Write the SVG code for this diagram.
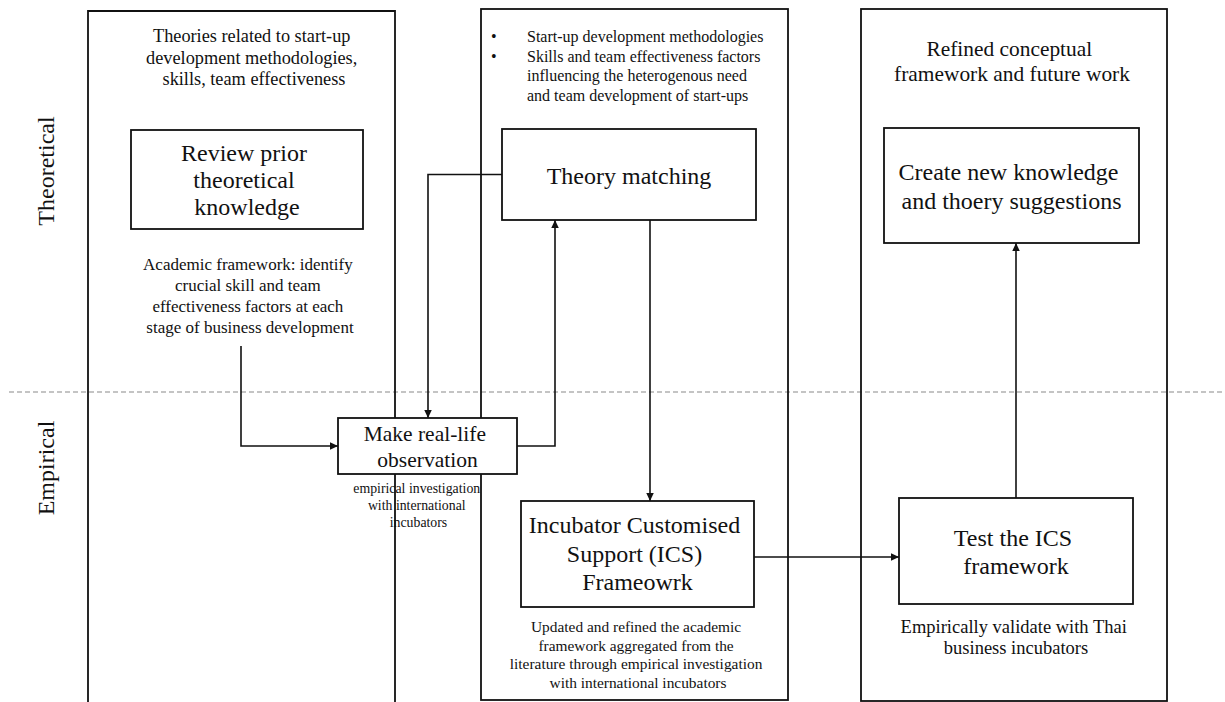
<svg xmlns="http://www.w3.org/2000/svg" width="1225" height="702" viewBox="0 0 1225 702">
  <style>
    text { font-family: "Liberation Serif", "Times New Roman", serif; fill: #111; }
    .col { fill: none; stroke: #111; stroke-width: 1.8; }
    .box { fill: #fff; stroke: #111; stroke-width: 1.8; }
    .big { font-size: 24px; text-anchor: middle; }
    .note { text-anchor: middle; }
    .side { font-size: 24px; text-anchor: middle; }
    .link { fill: none; stroke: #111; stroke-width: 1.6; marker-end: url(#arrow); }
  </style>
  <defs>
    <marker id="arrow" viewBox="0 0 10 10" refX="10" refY="5" markerWidth="8" markerHeight="7.5" markerUnits="userSpaceOnUse" orient="auto" preserveAspectRatio="none">
      <path d="M0,0 L10,5 L0,10 z" fill="#111"/>
    </marker>
  </defs>

  <rect width="1225" height="702" fill="#fff"/>

  <!-- side labels -->
  <text class="side" transform="translate(54,171) rotate(-90)">Theoretical</text>
  <text class="side" transform="translate(54,468) rotate(-90)">Empirical</text>

  <!-- divider between theoretical and empirical -->
  <line x1="9" y1="392" x2="1225" y2="392" stroke="#8a8a8a" stroke-width="1.2" stroke-dasharray="5,3"/>

  <!-- stage columns -->
  <g id="stage-1">
    <path class="col" d="M88,704 V11 H395 V704"/>
    <text class="note" font-size="18.3px">
      <tspan x="254" y="42">Theories related to start-up</tspan>
      <tspan x="254" y="63.5">development methodologies,</tspan>
      <tspan x="254" y="85">skills, team effectiveness</tspan>
    </text>
    <text class="note" font-size="17px">
      <tspan x="250" y="270">Academic framework: identify</tspan>
      <tspan x="250" y="291">crucial skill and team</tspan>
      <tspan x="250" y="312">effectiveness factors at each</tspan>
      <tspan x="250" y="333">stage of business development</tspan>
    </text>
  </g>
  <g id="stage-2">
    <rect class="col" x="481" y="9" width="307" height="691"/>
    <text font-size="16px">
      <tspan x="491" y="42">•</tspan>
      <tspan x="527" y="42">Start-up development methodologies</tspan>
      <tspan x="491" y="61.5">•</tspan>
      <tspan x="527" y="61.5">Skills and team effectiveness factors</tspan>
      <tspan x="527" y="81">influencing the heterogenous need</tspan>
      <tspan x="527" y="100.5">and team development of start-ups</tspan>
    </text>
    <text class="note" font-size="15.4px">
      <tspan x="638" y="632">Updated and refined the academic</tspan>
      <tspan x="638" y="650.5">framework aggregated from the</tspan>
      <tspan x="638" y="669">literature through empirical investigation</tspan>
      <tspan x="638" y="687.5">with international incubators</tspan>
    </text>
  </g>
  <g id="stage-3">
    <rect class="col" x="861" y="9" width="306" height="692"/>
    <text class="note" font-size="21.4px">
      <tspan x="1012" y="56">Refined conceptual</tspan>
      <tspan x="1012" y="81">framework and future work</tspan>
    </text>
    <text class="note" font-size="18.5px">
      <tspan x="1016" y="633">Empirically validate with Thai</tspan>
      <tspan x="1016" y="654">business incubators</tspan>
    </text>
  </g>

  <!-- connectors -->
  <g id="connectors">
    <path class="link" d="M241,346 V446 H338"/>
    <path class="link" d="M502,174.5 H428 V418"/>
    <path class="link" d="M517,446 H555 V220"/>
    <path class="link" d="M650,220 V501"/>
    <path class="link" d="M754,557 H899"/>
    <path class="link" d="M1016,498 V243"/>
  </g>

  <!-- process nodes -->
  <g id="review">
    <rect class="box" x="131" y="130" width="232" height="99"/>
    <text class="big">
      <tspan x="247" y="161">Review prior</tspan>
      <tspan x="247" y="188">theoretical</tspan>
      <tspan x="247" y="215">knowledge</tspan>
    </text>
  </g>
  <g id="theory-matching">
    <rect class="box" x="502" y="129" width="254" height="91"/>
    <text class="big" x="629" y="184">Theory matching</text>
  </g>
  <g id="create-knowledge">
    <rect class="box" x="884" y="128" width="255" height="115"/>
    <text class="big">
      <tspan x="1011.5" y="180">Create new knowledge</tspan>
      <tspan x="1011.5" y="209">and thoery suggestions</tspan>
    </text>
  </g>
  <g id="observation">
    <rect class="box" x="338" y="418" width="179" height="56"/>
    <text class="note" font-size="21.5px">
      <tspan x="427.5" y="441">Make real-life</tspan>
      <tspan x="427.5" y="467">observation</tspan>
    </text>
    <text class="note" font-size="13.8px">
      <tspan x="418.5" y="493">empirical investigation</tspan>
      <tspan x="418.5" y="510">with international</tspan>
      <tspan x="418.5" y="527">incubators</tspan>
    </text>
  </g>
  <g id="ics-framework">
    <rect class="box" x="521" y="501" width="233" height="106"/>
    <text class="big">
      <tspan x="637.5" y="533">Incubator Customised</tspan>
      <tspan x="637.5" y="561.5">Support (ICS)</tspan>
      <tspan x="637.5" y="590">Frameowrk</tspan>
    </text>
  </g>
  <g id="test-ics">
    <rect class="box" x="899" y="498" width="234" height="106"/>
    <text class="big">
      <tspan x="1016" y="546">Test the ICS</tspan>
      <tspan x="1016" y="574">framework</tspan>
    </text>
  </g>
</svg>
